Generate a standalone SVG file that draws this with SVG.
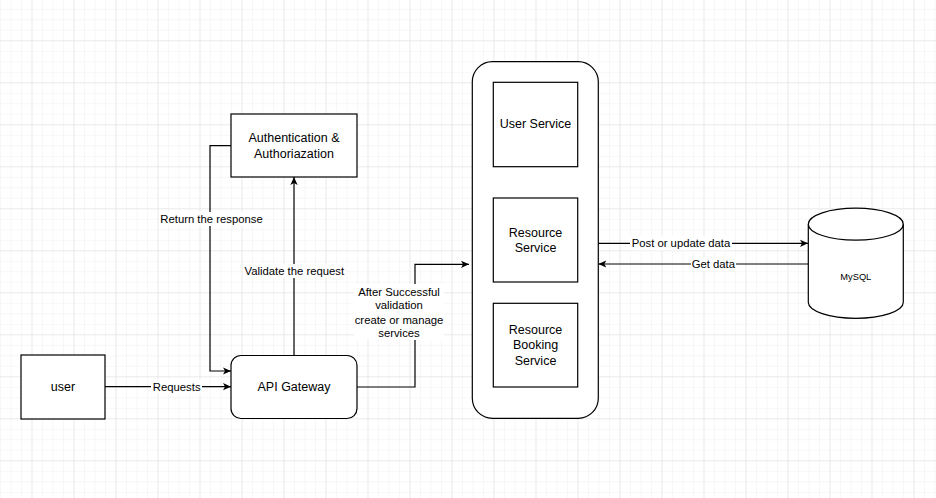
<svg xmlns="http://www.w3.org/2000/svg" width="936" height="498" viewBox="0 0 936 498">
<style>
  .node { fill: #ffffff; stroke: #000000; stroke-width: 1.2; }
  .edge { fill: none; stroke: #000000; stroke-width: 1.2; }
  .t { font-family: "Liberation Sans", Arial, sans-serif; font-size: 12.5px; fill: #000000; text-anchor: middle; }
  .lbl { font-family: "Liberation Sans", Arial, sans-serif; font-size: 11.3px; fill: #000000; text-anchor: middle; }
  .lblbg { fill: #ffffff; stroke: none; }
</style>
<defs>
  <pattern id="minor" x="31.5" y="40.3" width="10.5" height="10.5" patternUnits="userSpaceOnUse">
    <path d="M0,0 V10.5 M0,0 H10.5" fill="none" stroke="#f0f0f0" stroke-width="1"/>
  </pattern>
  <pattern id="major" x="31.5" y="40.3" width="42" height="42" patternUnits="userSpaceOnUse">
    <path d="M0,0 V42 M0,0 H42" fill="none" stroke="#e0e0e0" stroke-width="1"/>
  </pattern>
  <marker id="arrow" viewBox="0 0 10 10" refX="10" refY="5" markerWidth="9" markerHeight="8" markerUnits="userSpaceOnUse" orient="auto">
    <path d="M0,0.5 L10,5 L0,9.5 L2.5,5 z" fill="#000000"/>
  </marker>
</defs>
<rect x="0" y="0" width="936" height="498" fill="#ffffff"/>
<rect x="0" y="0" width="936" height="498" fill="url(#minor)"/>
<rect x="0" y="0" width="936" height="498" fill="url(#major)"/>

<g id="connectors">
  <path class="edge" d="M105,386.7 H231" marker-end="url(#arrow)"/>
  <path class="edge" d="M231,145.7 H210 V371 H231" marker-end="url(#arrow)"/>
  <path class="edge" d="M294,355.5 V177" marker-end="url(#arrow)"/>
  <path class="edge" d="M357,387 H415 V264.3 H469" marker-end="url(#arrow)"/>
  <path class="edge" d="M598.3,243.3 H808" marker-end="url(#arrow)"/>
  <path class="edge" d="M808,264 H598.3" marker-end="url(#arrow)"/>

  <rect class="lblbg" x="151" y="379.5" width="51" height="14"/>
  <text class="lbl" x="176.7" y="390.7">Requests</text>

  <rect class="lblbg" x="159" y="212" width="105" height="14"/>
  <text class="lbl" x="211.5" y="223">Return the response</text>

  <rect class="lblbg" x="243" y="264" width="103" height="14"/>
  <text class="lbl" x="294.3" y="275">Validate the request</text>

  <rect class="lblbg" x="354" y="284" width="90" height="56"/>
  <text class="lbl" x="399" y="295.7">After Successful</text>
  <text class="lbl" x="399" y="309">validation</text>
  <text class="lbl" x="399" y="324.3">create or manage</text>
  <text class="lbl" x="399" y="336.7">services</text>

  <rect class="lblbg" x="630" y="236.3" width="102" height="14"/>
  <text class="lbl" x="681" y="247.3">Post or update data</text>

  <rect class="lblbg" x="691" y="257" width="45" height="14"/>
  <text class="lbl" x="713.3" y="268">Get data</text>
</g>

<g id="user">
  <rect class="node" x="21" y="355" width="84" height="64"/>
  <text class="t" x="63" y="391.2">user</text>
</g>

<g id="api-gateway">
  <rect class="node" x="231" y="355.5" width="126" height="63" rx="10" ry="10"/>
  <text class="t" x="294" y="391.2">API Gateway</text>
</g>

<g id="auth">
  <rect class="node" x="231" y="114" width="126" height="63"/>
  <text class="t" x="294" y="142">Authentication &amp;</text>
  <text class="t" x="294" y="157.6">Authoriazation</text>
</g>

<g id="services-container">
  <rect class="node" x="472.3" y="61.7" width="126" height="356.6" rx="20" ry="20"/>
</g>

<g id="user-service">
  <rect class="node" x="493.3" y="82.3" width="84.4" height="84.4"/>
  <text class="t" x="535.5" y="127.6">User Service</text>
</g>

<g id="resource-service">
  <rect class="node" x="493.3" y="198" width="84.4" height="84"/>
  <text class="t" x="535.5" y="237">Resource</text>
  <text class="t" x="535.5" y="252">Service</text>
</g>

<g id="resource-booking-service">
  <rect class="node" x="493.3" y="303.3" width="84.4" height="83.7"/>
  <text class="t" x="535.5" y="334">Resource</text>
  <text class="t" x="535.5" y="349">Booking</text>
  <text class="t" x="535.5" y="364.6">Service</text>
</g>

<g id="mysql">
  <path class="node" d="M808.3,224.2 A47.5,16 0 0 1 903.3,224.2 V302.3 A47.5,16 0 0 1 808.3,302.3 Z"/>
  <path class="edge" d="M808.3,224.2 A47.5,16 0 0 0 903.3,224.2"/>
  <text class="t" x="855.8" y="280.3" style="font-size:9.3px">MySQL</text>
</g>
</svg>
